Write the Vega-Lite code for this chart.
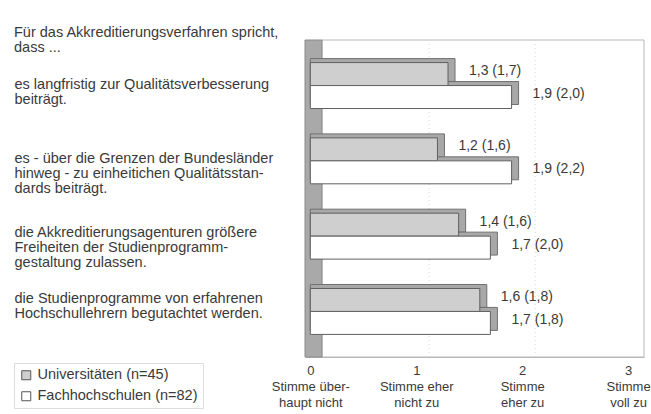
{
  "$schema": "https://vega.github.io/schema/vega-lite/v6.json",
  "width": 339,
  "height": 317,
  "autosize": {"type": "none"},
  "padding": {"left": 305, "top": 40, "right": 7, "bottom": 57},
  "background": "white",
  "config": {"view": {"stroke": null}, "font": "Liberation Sans"},
  "title": {
    "text": ["Für das Akkreditierungsverfahren spricht,", "dass  ..."],
    "anchor": "start",
    "frame": "group",
    "dx": -291,
    "offset": -16,
    "fontSize": 14.5,
    "fontWeight": "normal",
    "color": "#3a3a3a",
    "lineHeight": 15
  },
  "data": {
    "values": [
      {"item": "es langfristig zur Qualitätsverbesserung|beiträgt.", "group": "Universitäten (n=45)", "value": 1.3, "label": "1,3 (1,7)"},
      {"item": "es langfristig zur Qualitätsverbesserung|beiträgt.", "group": "Fachhochschulen (n=82)", "value": 1.9, "label": "1,9 (2,0)"},
      {"item": "es - über die Grenzen der Bundesländer|hinweg - zu einheitichen Qualitätsstan-|dards beiträgt.", "group": "Universitäten (n=45)", "value": 1.2, "label": "1,2 (1,6)"},
      {"item": "es - über die Grenzen der Bundesländer|hinweg - zu einheitichen Qualitätsstan-|dards beiträgt.", "group": "Fachhochschulen (n=82)", "value": 1.9, "label": "1,9 (2,2)"},
      {"item": "die Akkreditierungsagenturen größere|Freiheiten der Studienprogramm-|gestaltung zulassen.", "group": "Universitäten (n=45)", "value": 1.4, "label": "1,4 (1,6)"},
      {"item": "die Akkreditierungsagenturen größere|Freiheiten der Studienprogramm-|gestaltung zulassen.", "group": "Fachhochschulen (n=82)", "value": 1.7, "label": "1,7 (2,0)"},
      {"item": "die Studienprogramme von erfahrenen|Hochschullehrern begutachtet werden.", "group": "Universitäten (n=45)", "value": 1.6, "label": "1,6 (1,8)"},
      {"item": "die Studienprogramme von erfahrenen|Hochschullehrern begutachtet werden.", "group": "Fachhochschulen (n=82)", "value": 1.7, "label": "1,7 (1,8)"}
    ]
  },
  "resolve": {"scale": {"yOffset": "independent"}},
  "layer": [
    {
      "data": {"values": [{}]},
      "mark": {"type": "rect", "fill": "white", "stroke": "#b8b8b8", "strokeWidth": 1},
      "encoding": {
        "x": {
          "datum": 0.11,
          "type": "quantitative",
          "scale": {"domain": [-0.05, 3.15], "nice": false, "zero": false},
          "axis": {
            "values": [0, 1, 2, 3],
            "title": null,
            "labelExpr": "datum.value==0 ? ['0','Stimme über-','haupt nicht'] : datum.value==1 ? ['1','Stimme eher','nicht zu'] : datum.value==2 ? ['2','Stimme','eher zu'] : ['3','Stimme','voll zu']",
            "domain": true,
            "domainColor": "#b8b8b8",
            "ticks": false,
            "grid": false,
            "labelFontSize": 13,
            "labelColor": "#3a3a3a",
            "labelLineHeight": 16,
            "labelPadding": 7,
            "labelBaseline": "top",
            "labelFlush": false,
            "labelOverlap": false,
            "labelDx": -3
          }
        },
        "x2": {"datum": 3.15}
      }
    },
    {
      "data": {"values": [{}]},
      "mark": {"type": "rect", "fill": "#a9a9a9", "stroke": "#8a8a8a", "strokeWidth": 1},
      "encoding": {
        "x": {"datum": -0.05, "type": "quantitative", "title": null},
        "x2": {"datum": 0.11}
      }
    },
    {
      "data": {"values": [{}]},
      "mark": {"type": "rule", "color": "#d8d8d8", "strokeDash": [1, 3], "xOffset": 13},
      "encoding": {"x": {"datum": 1, "type": "quantitative", "title": null}}
    },
    {
      "data": {"values": [{}]},
      "mark": {"type": "rule", "color": "#d8d8d8", "strokeDash": [1, 3], "xOffset": 13},
      "encoding": {"x": {"datum": 2, "type": "quantitative", "title": null}}
    },
    {
      "mark": {"type": "bar", "fill": "#a8a8a8", "stroke": "#707070", "strokeWidth": 1, "xOffset": 7},
      "encoding": {
        "x": {"field": "value", "type": "quantitative", "stack": null, "title": null},
        "y": {
          "field": "item",
          "type": "nominal",
          "sort": null,
          "title": null,
          "scale": {"paddingInner": 0.39, "paddingOuter": 0.3},
          "axis": {
            "domain": false,
            "ticks": false,
            "labelAlign": "left",
            "labelPadding": 291,
            "labelLimit": 0,
            "labelFontSize": 14.5,
            "labelColor": "#3a3a3a",
            "labelLineHeight": 15,
            "labelBaseline": "middle",
            "labelOverlap": false,
            "labelExpr": "split(datum.label,'|')",
            "labelOffset": {
              "condition": [
                {"test": "datum.value == 'die Studienprogramme von erfahrenen|Hochschullehrern begutachtet werden.'", "value": -12},
                {"test": "datum.value == 'es langfristig zur Qualitätsverbesserung|beiträgt.'", "value": -1},
                {"test": "datum.value == 'die Akkreditierungsagenturen größere|Freiheiten der Studienprogramm-|gestaltung zulassen.'", "value": -3}
              ],
              "value": -2
            }
          }
        },
        "yOffset": {"field": "group", "type": "nominal", "sort": ["Universitäten (n=45)", "Fachhochschulen (n=82)"], "scale": {"range": [-4, 41.9], "paddingInner": 0, "paddingOuter": 0}}
      }
    },
    {
      "mark": {"type": "bar", "stroke": "#606060", "strokeWidth": 1},
      "encoding": {
        "x": {"field": "value", "type": "quantitative", "stack": null, "title": null},
        "y": {"field": "item", "type": "nominal", "sort": null, "title": null},
        "yOffset": {"field": "group", "type": "nominal", "sort": ["Universitäten (n=45)", "Fachhochschulen (n=82)"], "scale": {"paddingInner": 0, "paddingOuter": 0}},
        "color": {
          "field": "group",
          "type": "nominal",
          "sort": ["Universitäten (n=45)", "Fachhochschulen (n=82)"],
          "scale": {"range": ["#cfcfcf", "#ffffff"]},
          "legend": {
            "title": null,
            "orient": "none",
            "legendX": -291,
            "legendY": 323,
            "padding": 5,
            "strokeColor": "#dddddd",
            "symbolType": "square",
            "symbolSize": 81,
            "symbolStrokeColor": "#555555",
            "symbolStrokeWidth": 1,
            "labelFontSize": 14.5,
            "labelColor": "#3a3a3a",
            "labelOffset": 4,
            "rowPadding": 6,
            "labelLimit": 0
          }
        }
      }
    },
    {
      "mark": {"type": "text", "align": "left", "baseline": "middle", "dx": 21, "dy": -3, "fontSize": 14, "color": "#3a3a3a"},
      "encoding": {
        "x": {"field": "value", "type": "quantitative", "stack": null, "title": null},
        "y": {"field": "item", "type": "nominal", "sort": null, "title": null},
        "yOffset": {"field": "group", "type": "nominal", "sort": ["Universitäten (n=45)", "Fachhochschulen (n=82)"], "scale": {"type": "point", "padding": 0.5}},
        "text": {"field": "label"}
      }
    }
  ]
}
